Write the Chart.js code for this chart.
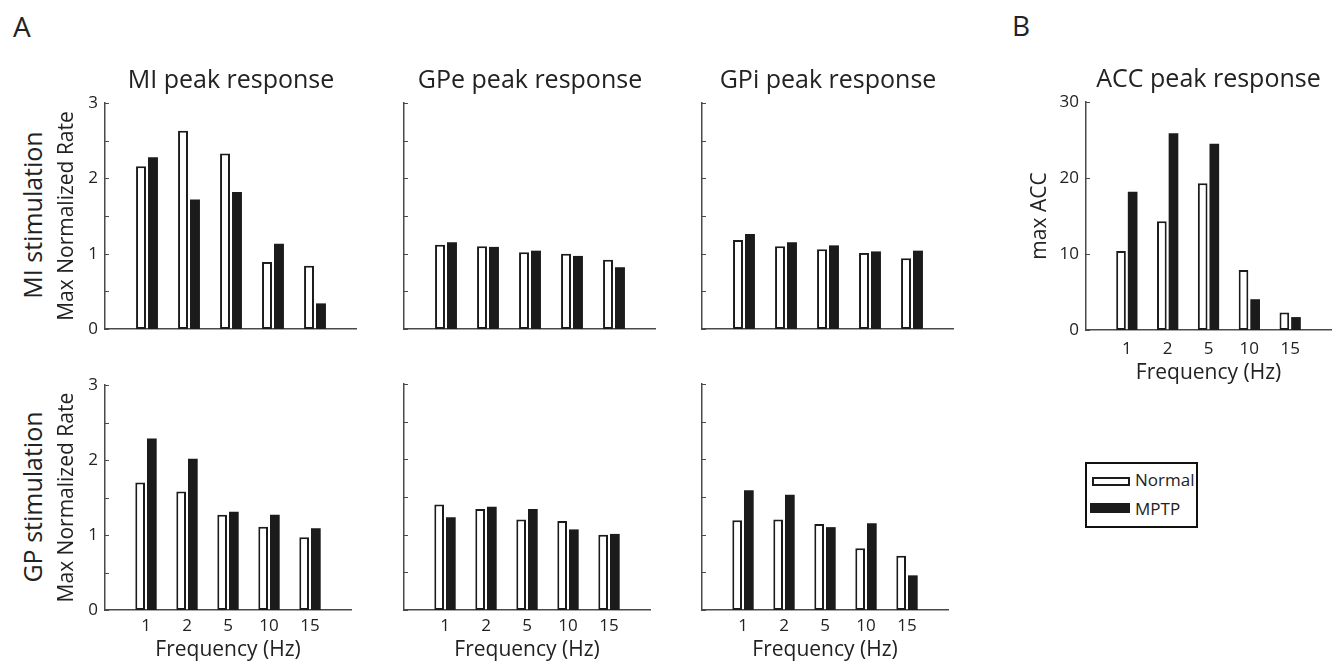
<!DOCTYPE html>
<html>
<head>
<meta charset="utf-8">
<script src="https://cdn.jsdelivr.net/npm/chart.js@4.4.1/dist/chart.umd.min.js"></script>
<style>
  html, body { margin: 0; padding: 0; background: #fff; overflow: hidden; width: 1333px; height: 663px; }
  body { position: relative; font-family: "Open Sans", sans-serif; color: #222; }
  canvas { position: absolute; }
  .lbl { position: absolute; white-space: nowrap; line-height: 1; }
  .rot { transform: translate(-50%, -50%) rotate(-90deg); }
  #legend { position: absolute; left: 1085px; top: 462px; width: 113px; height: 66px; box-sizing: border-box; border: 2px solid #111; }
  .sw { position: absolute; box-sizing: border-box; }
  .lg { position: absolute; font-size: 17px; line-height: 20px; }
</style>
</head>
<body>
<div class="lbl" style="left:13px;top:12px;font-size:28px">A</div>
<div class="lbl" style="left:1012px;top:11px;font-size:28px">B</div>
<div class="lbl rot" style="left:32px;top:215px;font-size:25px">MI stimulation</div>
<div class="lbl rot" style="left:32px;top:497px;font-size:25px">GP stimulation</div>

<div id="legend"></div>
<div class="sw" style="left:1092px;top:477px;width:38px;height:9px;border:2px solid #1b1b1b;background:#fff"></div>
<div class="lg" style="left:1135px;top:470px">Normal</div>
<div class="sw" style="left:1090px;top:503px;width:40px;height:10px;background:#1b1b1b"></div>
<div class="lg" style="left:1135px;top:499px">MPTP</div>

<script>
const freqLabels = ['1', '2', '5', '10', '15'];

// MI stimulation row
const miTopNormal = [2.16, 2.63, 2.33, 0.89, 0.84];
const miTopMptp = [2.28, 1.72, 1.82, 1.13, 0.34];
const gpeTopNormal = [1.12, 1.10, 1.02, 1.00, 0.92];
const gpeTopMptp = [1.15, 1.09, 1.04, 0.97, 0.82];
const gpiTopNormal = [1.18, 1.10, 1.06, 1.01, 0.94];
const gpiTopMptp = [1.26, 1.15, 1.11, 1.03, 1.04];

// GP stimulation row
const miBotNormal = [1.70, 1.58, 1.27, 1.11, 0.97];
const miBotMptp = [2.29, 2.02, 1.31, 1.27, 1.09];
const gpeBotNormal = [1.40, 1.34, 1.20, 1.18, 1.00];
const gpeBotMptp = [1.23, 1.37, 1.34, 1.07, 1.01];
const gpiBotNormal = [1.19, 1.20, 1.14, 0.82, 0.72];
const gpiBotMptp = [1.59, 1.53, 1.10, 1.15, 0.46];

// ACC
const accNormal = [10.4, 14.3, 19.3, 7.9, 2.3];
const accMptp = [18.2, 25.9, 24.5, 4.05, 1.7];

const axisColor = '#4a4a4a';
const textColor = '#222';
const barBlack = '#1b1b1b';
const family = 'Open Sans';

// matlab style ticks pointing into the axes
const inTicks = {
    id: 'inTicks',
    afterDraw(chart) {
        const y = chart.scales.y;
        const ctx = chart.ctx;
        const left = chart.chartArea.left;
        ctx.save();
        ctx.strokeStyle = axisColor;
        ctx.lineWidth = 1;
        y.ticks.forEach((t) => {
            const p = Math.round(y.getPixelForValue(t.value)) + 0.5;
            ctx.beginPath();
            ctx.moveTo(left, p);
            ctx.lineTo(left + 4, p);
            ctx.stroke();
        });
        ctx.restore();
    }
};

const makePanel = (p) => {
    const titleH = p.title ? 48 : 0;
    const padTop = p.title ? 0 : 16;
    const left = p.x0 - p.wy;
    const top = p.y0 - (p.title ? titleH : padTop);
    const width = p.x1 - p.x0 + p.wy;
    const height = p.y1 + p.hx - top;

    const canvas = document.createElement('canvas');
    canvas.width = width;
    canvas.height = height;
    canvas.style.left = left + 'px';
    canvas.style.top = top + 'px';
    document.body.appendChild(canvas);

    return new Chart(canvas, {
        type: 'bar',
        data: {
            labels: ['', ...freqLabels, ''],
            datasets: [{
                label: 'Normal',
                data: [null, ...p.normal, null],
                backgroundColor: '#fff',
                borderColor: barBlack,
                borderWidth: 2,
                borderSkipped: false,
                categoryPercentage: 0.57,
                barPercentage: 0.83
            }, {
                label: 'MPTP',
                data: [null, ...p.mptp, null],
                backgroundColor: barBlack,
                borderWidth: 0,
                categoryPercentage: 0.57,
                barPercentage: 0.83
            }]
        },
        options: {
            responsive: false,
            animation: false,
            devicePixelRatio: 1,
            layout: { padding: { top: padTop, left: 0, right: 0, bottom: 0 } },
            plugins: {
                legend: { display: false },
                tooltip: { enabled: false },
                title: {
                    display: !!p.title,
                    text: p.title,
                    fullSize: false,
                    color: textColor,
                    font: { family, size: 25, weight: 'normal' },
                    padding: { top: 11, bottom: 7 }
                }
            },
            scales: {
                x: {
                    offset: false,
                    grid: { display: false, drawTicks: false },
                    border: { color: axisColor, width: 1.5 },
                    ticks: {
                        display: p.showX,
                        autoSkip: false,
                        maxRotation: 0,
                        padding: p.tickPad,
                        color: textColor,
                        font: { family, size: 17 }
                    },
                    title: {
                        display: p.showX,
                        text: 'Frequency (Hz)',
                        color: textColor,
                        font: { family, size: 21 },
                        padding: { top: 0, bottom: 0 }
                    },
                    afterFit(s) { s.height = p.hx; }
                },
                y: {
                    min: 0,
                    max: p.ymax,
                    grid: { display: false, drawTicks: false },
                    border: { color: axisColor, width: 1.5 },
                    ticks: {
                        display: p.showY,
                        stepSize: p.step,
                        padding: 7,
                        color: textColor,
                        font: { family, size: 17 },
                        callback: (v) => (v % p.labelEvery === 0 ? v : '')
                    },
                    title: {
                        display: !!p.yTitle,
                        text: p.yTitle,
                        color: textColor,
                        font: { family, size: 21 },
                        padding: { top: p.yTitlePad, bottom: 0 }
                    },
                    afterFit(s) { s.width = p.wy; }
                }
            }
        },
        plugins: [inTicks]
    });
};

const rowTop = { y0: 103, y1: 329, hx: 20, showX: false, tickPad: 6 };
const rowBot = { y0: 384, y1: 610, hx: 53, showX: true, tickPad: 6 };
const rateAxis = { ymax: 3, step: 0.5, labelEvery: 1 };

makePanel({ ...rowTop, ...rateAxis, x0: 105, x1: 357, wy: 60, showY: true, yTitle: 'Max Normalized Rate', yTitlePad: 9,
    title: 'MI peak response', normal: miTopNormal, mptp: miTopMptp });
makePanel({ ...rowTop, ...rateAxis, x0: 404, x1: 656, wy: 10, showY: false,
    title: 'GPe peak response', normal: gpeTopNormal, mptp: gpeTopMptp });
makePanel({ ...rowTop, ...rateAxis, x0: 702, x1: 954, wy: 10, showY: false,
    title: 'GPi peak response', normal: gpiTopNormal, mptp: gpiTopMptp });

makePanel({ ...rowBot, ...rateAxis, x0: 105, x1: 357, wy: 60, showY: true, yTitle: 'Max Normalized Rate', yTitlePad: 9,
    normal: miBotNormal, mptp: miBotMptp });
makePanel({ ...rowBot, ...rateAxis, x0: 404, x1: 656, wy: 10, showY: false,
    normal: gpeBotNormal, mptp: gpeBotMptp });
makePanel({ ...rowBot, ...rateAxis, x0: 702, x1: 954, wy: 10, showY: false,
    normal: gpiBotNormal, mptp: gpiBotMptp });

makePanel({ y0: 102, y1: 330, hx: 56, showX: true, tickPad: 9, ymax: 30, step: 10, labelEvery: 10,
    x0: 1086, x1: 1340, wy: 66, showY: true, yTitle: 'max ACC', yTitlePad: 7,
    title: 'ACC peak response', normal: accNormal, mptp: accMptp });
</script>
</body>
</html>
